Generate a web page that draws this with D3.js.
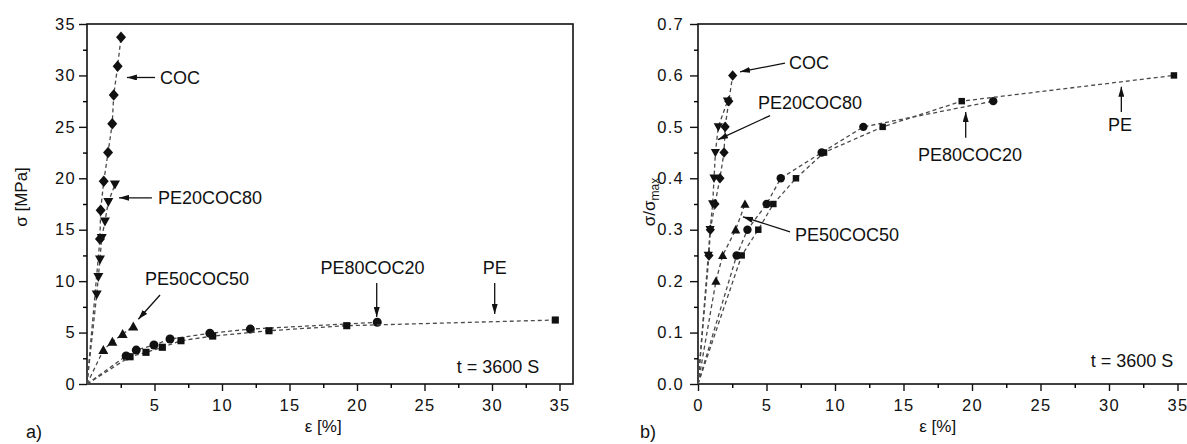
<!DOCTYPE html>
<html>
<head>
<meta charset="utf-8">
<script src="https://cdn.jsdelivr.net/npm/d3@7"></script>
<style>
  body { margin: 0; background: #fff; }
  text { font-family: "Liberation Sans", Arial, sans-serif; fill: #111; }
</style>
</head>
<body>
<div id="chart"></div>
<script>
// panel a) stress [MPa] against strain [%]
const cocStrainA    = [0, 0.96, 1.01, 1.24, 1.56, 1.87, 1.98, 2.27, 2.52];
const cocStressA    = [0, 14.1, 16.9, 19.7, 22.5, 25.3, 28.1, 30.9, 33.7];
const pe20StrainA   = [0, 0.72, 0.84, 0.96, 1.09, 1.33, 1.58, 2.07];
const pe20StressA   = [0, 8.7, 10.4, 12.1, 14.2, 15.8, 17.7, 19.4];
const pe50StrainA   = [0, 1.21, 1.88, 2.64, 3.43];
const pe50StressA   = [0, 3.3, 4.1, 4.85, 5.6];
const pe80StrainA   = [0, 2.9, 3.65, 4.96, 6.15, 9.1, 12.1, 21.5];
const pe80StressA   = [0, 2.72, 3.3, 3.79, 4.37, 4.93, 5.34, 6.0];
const peStrainA     = [0, 3.19, 4.37, 5.58, 6.96, 9.31, 13.48, 19.24, 34.69];
const peStressA     = [0, 2.65, 3.08, 3.57, 4.21, 4.66, 5.18, 5.67, 6.22];

// panel b) relative stress sigma/sigma_max against strain [%]
const cocStrainB    = [0, 0.8, 0.9, 1.24, 1.6, 1.9, 1.98, 2.25, 2.53];
const cocRelB       = [0, 0.25, 0.3, 0.35, 0.4, 0.45, 0.5, 0.55, 0.6];
const pe20StrainB   = [0, 0.75, 0.88, 1.07, 1.17, 1.27, 1.48, 2.15];
const pe20RelB      = [0, 0.25, 0.3, 0.35, 0.4, 0.45, 0.5, 0.55];
const pe50StrainB   = [0, 1.31, 1.8, 2.75, 3.43];
const pe50RelB      = [0, 0.2, 0.25, 0.3, 0.35];
const pe80StrainB   = [0, 2.82, 3.61, 5.01, 6.04, 9.03, 12.07, 21.55];
const pe80RelB      = [0, 0.25, 0.3, 0.35, 0.4, 0.45, 0.5, 0.55];
const peStrainB     = [0, 3.19, 4.4, 5.5, 7.15, 9.2, 13.48, 19.25, 34.74];
const peRelB        = [0, 0.25, 0.3, 0.35, 0.4, 0.45, 0.5, 0.55, 0.6];

const xTicks  = [0, 5, 10, 15, 20, 25, 30, 35];
const yTicksA = [0, 5, 10, 15, 20, 25, 30, 35];
const yTicksB = [0, 0.1, 0.2, 0.3, 0.4, 0.5, 0.6, 0.7];

const width = 1187, height = 444;
const svg = d3.select("#chart").append("svg")
              .attr("width", width)
              .attr("height", height);

const defs = svg.append("defs");
defs.append("marker")
    .attr("id", "arrow")
    .attr("viewBox", "0 0 10 6")
    .attr("refX", 10).attr("refY", 3)
    .attr("markerWidth", 10).attr("markerHeight", 6)
    .attr("markerUnits", "userSpaceOnUse")
    .attr("orient", "auto")
    .append("path")
    .attr("d", "M0,0 L10,3 L0,6 z")
    .attr("fill", "#111");

// marker shapes
const shapes = {
  diamond: (r) => `M0,${-r*1.15}L${r},0L0,${r*1.15}L${-r},0Z`,
  triDown: (r) => `M${-r},${-r*0.8}L${r},${-r*0.8}L0,${r*1.0}Z`,
  triUp:   (r) => `M${-r},${r*0.8}L${r},${r*0.8}L0,${-r*1.0}Z`,
  circle:  (r) => `M${r},0A${r},${r} 0 1,1 ${-r},0A${r},${r} 0 1,1 ${r},0Z`,
  square:  (r) => `M${-r*0.85},${-r*0.85}h${r*1.7}v${r*1.7}h${-r*1.7}Z`
};

function panel(cfg) {
  const x = d3.scaleLinear().domain([0, 36]).range([cfg.left, cfg.left + cfg.pxPerUnit * 36]);
  const y = d3.scaleLinear().domain(cfg.yDomain).range([384, 24]);
  const g = svg.append("g");

  // frame
  g.append("rect")
   .attr("x", x(0)).attr("y", y(cfg.yDomain[1]))
   .attr("width", x(36) - x(0)).attr("height", y(0) - y(cfg.yDomain[1]))
   .attr("fill", "none").attr("stroke", "#111").attr("stroke-width", 1.6);

  // minor ticks
  const xMinor = d3.range(2.5, 36, 5);
  const yStep = cfg.yTicks[1] - cfg.yTicks[0];
  const yMinor = cfg.yTicks.slice(0, -1).map(v => v + yStep / 2);
  g.append("g").attr("transform", `translate(0,${y(0)})`)
   .call(d3.axisBottom(x).tickValues(xMinor).tickSize(4).tickSizeOuter(0).tickFormat(""))
   .call(a => a.select(".domain").remove())
   .selectAll("line").attr("stroke-width", 1.4);
  g.append("g").attr("transform", `translate(${x(0)},0)`)
   .call(d3.axisLeft(y).tickValues(yMinor).tickSize(4).tickSizeOuter(0).tickFormat(""))
   .call(a => a.select(".domain").remove())
   .selectAll("line").attr("stroke-width", 1.4);

  // major ticks
  const gx = g.append("g").attr("transform", `translate(0,${y(0)})`)
   .call(d3.axisBottom(x).tickValues(cfg.xTickVals).tickSize(7).tickSizeOuter(0).tickPadding(8));
  const gy = g.append("g").attr("transform", `translate(${x(0)},0)`)
   .call(d3.axisLeft(y).tickValues(cfg.yTicks).tickSize(8).tickSizeOuter(0)
         .tickPadding(cfg.yPad).tickFormat(cfg.yFormat));
  [gx, gy].forEach(a => {
    a.select(".domain").remove();
    a.selectAll("line").attr("stroke", "#111").attr("stroke-width", 1.4);
    a.selectAll("text").attr("font-size", 16.5).attr("fill", "#111")
     .attr("font-family", "Liberation Sans, Arial, sans-serif")
     .attr("letter-spacing", 1.3);
  });

  // series
  const line = d3.line().x(d => x(d[0])).y(d => y(d[1]));
  cfg.series.forEach(s => {
    const pts = s.x.map((v, i) => [v, s.y[i]]);
    g.append("path").datum(pts)
     .attr("d", line)
     .attr("fill", "none")
     .attr("stroke", "#4a4a4a")
     .attr("stroke-width", 1.3)
     .attr("stroke-dasharray", "4,3");
    g.selectAll(null).data(pts.slice(1)).enter()
     .append("path")
     .attr("transform", d => `translate(${x(d[0])},${y(d[1])})`)
     .attr("d", shapes[s.shape](s.r))
     .attr("fill", "#111");
  });

  // annotations
  cfg.notes.forEach(n => {
    g.append("text")
     .attr("x", x(n.tx)).attr("y", y(n.ty))
     .attr("dy", "0.35em")
     .attr("text-anchor", n.anchor || "start")
     .attr("font-size", 18)
     .text(n.label);
    g.append("line")
     .attr("x1", x(n.a[0])).attr("y1", y(n.a[1]))
     .attr("x2", x(n.a[2])).attr("y2", y(n.a[3]))
     .attr("stroke", "#111").attr("stroke-width", 1.3)
     .attr("marker-end", "url(#arrow)");
  });

  g.append("text")
   .attr("x", x(cfg.tPos[0])).attr("y", y(cfg.tPos[1]))
   .attr("text-anchor", "end").attr("font-size", 18)
   .text("t = 3600 S");

  g.append("text")
   .attr("x", x(17.5)).attr("y", 432)
   .attr("text-anchor", "middle").attr("font-size", 17)
   .text("ε [%]");

  g.append("text")
   .attr("x", cfg.panelLabel[0]).attr("y", 438)
   .attr("font-size", 18)
   .text(cfg.panelLabel[1]);

  return g;
}

const gA = panel({
  left: 87, pxPerUnit: 13.5,
  yDomain: [0, 35], yTicks: yTicksA, yFormat: d3.format("d"), yPad: 3,
  xTickVals: xTicks.slice(1),
  series: [
    {x: cocStrainA,  y: cocStressA,  shape: "diamond", r: 5},
    {x: pe20StrainA, y: pe20StressA, shape: "triDown", r: 5},
    {x: pe50StrainA, y: pe50StressA, shape: "triUp",   r: 5},
    {x: pe80StrainA, y: pe80StressA, shape: "circle",  r: 4.5},
    {x: peStrainA,   y: peStressA,   shape: "square",  r: 4.2}
  ],
  notes: [
    {label: "COC",       tx: 5.4,   ty: 29.8, a: [5.04, 29.8, 2.96, 29.8]},
    {label: "PE20COC80", tx: 5.26,  ty: 18.1, a: [4.81, 18.1, 2.37, 18.1]},
    {label: "PE50COC50", tx: 4.3,   ty: 10.2, a: [5.41, 8.65, 3.8, 6.29]},
    {label: "PE80COC20", tx: 21.15, ty: 11.3, anchor: "middle", a: [21.46, 9.82, 21.46, 6.51]},
    {label: "PE",        tx: 30.2,  ty: 11.3, anchor: "middle", a: [30.2, 9.82, 30.2, 6.8]}
  ],
  tPos: [33.5, 1.1],
  panelLabel: [26, "a)"]
});

gA.append("text")
  .attr("transform", "translate(27,197) rotate(-90)")
  .attr("text-anchor", "middle").attr("font-size", 17)
  .text("σ [MPa]");

const gB = panel({
  left: 698, pxPerUnit: 13.7,
  yDomain: [0, 0.7], yTicks: yTicksB, yFormat: d3.format(".1f"), yPad: 6,
  xTickVals: xTicks,
  series: [
    {x: cocStrainB,  y: cocRelB,  shape: "diamond", r: 4.6},
    {x: pe20StrainB, y: pe20RelB, shape: "triDown", r: 4.6},
    {x: pe50StrainB, y: pe50RelB, shape: "triUp",   r: 4.6},
    {x: pe80StrainB, y: pe80RelB, shape: "circle",  r: 4.2},
    {x: peStrainB,   y: peRelB,   shape: "square",  r: 3.8}
  ],
  notes: [
    {label: "COC",       tx: 6.64,  ty: 0.624, a: [6.35, 0.624, 3.07, 0.607]},
    {label: "PE20COC80", tx: 4.38,  ty: 0.547, a: [5.26, 0.522, 1.46, 0.475]},
    {label: "PE50COC50", tx: 7.08,  ty: 0.29,  a: [6.72, 0.296, 3.28, 0.325]},
    {label: "PE80COC20", tx: 19.85, ty: 0.446, anchor: "middle", a: [19.54, 0.479, 19.54, 0.529]},
    {label: "PE",        tx: 30.8,  ty: 0.504, anchor: "middle", a: [30.9, 0.529, 30.9, 0.578]}
  ],
  tPos: [34.7, 0.034],
  panelLabel: [640, "b)"]
});

const yb = gB.append("text")
  .attr("transform", "translate(655,202) rotate(-90)")
  .attr("text-anchor", "middle").attr("font-size", 17);
yb.append("tspan").text("σ/σ");
yb.append("tspan").attr("font-size", 12).attr("dy", 4).text("max");
</script>
</body>
</html>
